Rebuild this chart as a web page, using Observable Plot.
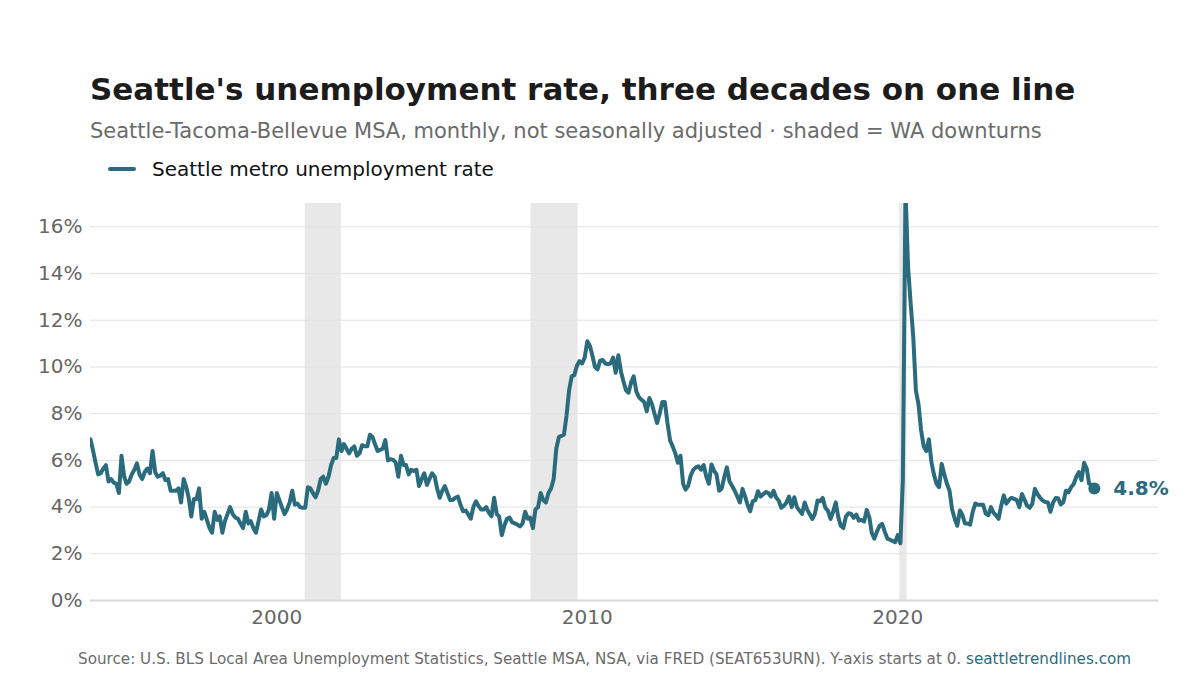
<!DOCTYPE html>
<html>
<head>
<meta charset="utf-8">
<script src="https://cdn.jsdelivr.net/npm/d3@7"></script>
<script src="https://cdn.jsdelivr.net/npm/@observablehq/plot@0.6"></script>
<style>
  html, body { margin: 0; padding: 0; background: #fff; }
  body { width: 1200px; height: 675px; position: relative; overflow: hidden; font-family: "DejaVu Sans", sans-serif; }
  .abs { position: absolute; white-space: nowrap; line-height: 1; }
  #title { left: 90px; top: 74px; font-size: 31px; font-weight: bold; color: #1c1c1c; }
  #subtitle { left: 90px; top: 121px; font-size: 21px; color: #6b6b6b; }
  #legend { left: 108px; top: 159px; font-size: 20px; color: #111; display: flex; align-items: center; }
  #legend .sw { width: 28px; height: 4px; border-radius: 2px; background: #2b6b7e; margin-right: 16px; }
  #chart { left: 0; top: 190px; }
  #footer { left: 78px; top: 652px; font-size: 15.2px; color: #6b6b6b; }
  #footer a { color: #2b6b7e; text-decoration: none; }
</style>
</head>
<body>
<div id="title" class="abs">Seattle's unemployment rate, three decades on one line</div>
<div id="subtitle" class="abs">Seattle-Tacoma-Bellevue MSA, monthly, not seasonally adjusted · shaded = WA downturns</div>
<div id="legend" class="abs"><span class="sw"></span><span>Seattle metro unemployment rate</span></div>
<div id="chart" class="abs"></div>
<div id="footer" class="abs">Source: U.S. BLS Local Area Unemployment Statistics, Seattle MSA, NSA, via FRED (SEAT653URN). Y-axis starts at 0. <a>seattletrendlines.com</a></div>
<script>
// Monthly unemployment rate (%), starting January 1994
const firstYear = 1994;
const rate1990s = [
  6.9, 6.4, 5.9, 5.4, 5.45, 5.65, 5.8, 5.1, 5.2, 5.05, 5.0, 4.6,
  6.2, 5.3, 5.0, 5.1, 5.4, 5.6, 5.87, 5.4, 5.2, 5.5, 5.65, 5.45,
  6.4, 5.5, 5.3, 5.35, 5.45, 5.15, 5.2, 4.7, 4.7, 4.7, 4.8, 4.2,
  5.2, 4.85, 4.4, 3.6, 4.35, 4.35, 4.8, 3.5, 3.8, 3.45, 3.1, 2.9,
  3.8, 3.45, 3.6, 2.9, 3.4, 3.7, 4.0, 3.7, 3.55, 3.5, 3.3, 3.1,
  3.8, 3.3, 3.4, 3.1, 2.9, 3.4, 3.9, 3.6, 3.65, 3.9, 4.6, 3.5
];
const rate2000s = [
  4.6, 4.3, 4.0, 3.7, 3.9, 4.2, 4.7, 4.1, 4.15, 4.0, 3.97, 3.97,
  4.85, 4.8, 4.6, 4.42, 4.7, 5.2, 5.3, 5.0, 5.3, 5.8, 6.1, 6.1,
  6.9, 6.4, 6.7, 6.5, 6.3, 6.5, 6.6, 6.2, 6.3, 6.65, 6.6, 6.6,
  7.1, 7.0, 6.7, 6.4, 6.45, 6.5, 6.87, 6.0, 6.05, 6.02, 5.9, 5.3,
  6.2, 5.8, 5.8, 5.4, 5.6, 5.55, 5.6, 4.9, 5.2, 5.45, 4.95, 5.2,
  5.45, 5.3, 4.8, 4.4, 4.7, 4.9, 4.6, 4.3, 4.3, 4.4, 4.45, 4.1,
  3.82, 3.85, 3.7, 3.5, 4.0, 4.25, 4.05, 3.9, 3.9, 4.0, 3.75, 3.6,
  4.4, 3.7, 3.6, 2.8, 3.2, 3.5, 3.55, 3.35, 3.3, 3.25, 3.17, 3.3,
  3.8, 3.5, 3.55, 3.1, 3.9, 4.0, 4.6, 4.3, 4.2, 4.6, 4.8, 5.2,
  6.5, 7.0, 7.05, 7.1, 7.9, 9.0, 9.6, 9.65, 10.05, 10.25, 10.15, 10.4
];
const rate2010s = [
  11.1, 10.9, 10.5, 10.0, 9.9, 10.27, 10.3, 10.15, 10.12, 10.15, 10.4, 9.75,
  10.5, 9.8, 9.4, 9.0, 8.9, 9.35, 9.6, 8.95, 8.7, 8.6, 8.5, 8.1,
  8.67, 8.4, 8.0, 7.6, 8.0, 8.5, 8.5, 7.6, 6.85, 6.6, 6.3, 5.9,
  6.2, 5.0, 4.75, 4.9, 5.35, 5.6, 5.7, 5.75, 5.6, 5.8, 5.3, 5.0,
  5.82, 5.55, 5.4, 4.7, 4.8, 5.3, 5.7, 5.1, 4.9, 4.7, 4.45, 4.2,
  4.78, 4.45, 4.1, 3.82, 4.25, 4.3, 4.68, 4.45, 4.55, 4.65, 4.6, 4.45,
  4.7, 4.4, 4.28, 3.97, 4.06, 4.2, 4.45, 4.0, 4.42, 4.0, 3.85, 3.71,
  4.2, 3.88, 3.7, 3.49, 3.71, 4.28, 4.25, 4.39, 3.97, 3.85, 3.49, 3.8,
  4.2, 3.56, 3.2, 3.1, 3.6, 3.74, 3.71, 3.54, 3.68, 3.42, 3.45, 3.38,
  3.88, 3.55, 2.9, 2.65, 2.95, 3.2, 3.28, 2.95, 2.65, 2.6, 2.55, 2.5
];
const rate2020s = [
  2.8, 2.45, 5.2, 17.6, 14.3, 12.7, 11.3, 9.0, 8.4, 7.3, 6.6, 6.4,
  6.9, 5.9, 5.4, 5.0, 4.85, 5.85, 5.4, 5.0, 4.7, 3.9, 3.5, 3.2,
  3.85, 3.65, 3.3, 3.3, 3.25, 3.8, 4.15, 4.1, 4.1, 4.1, 3.72, 3.65,
  4.0, 3.75, 3.65, 3.5, 4.05, 4.5, 4.15, 4.3, 4.4, 4.35, 4.3, 4.0,
  4.56, 4.31, 4.06, 3.97, 4.14, 4.78, 4.56, 4.4, 4.28, 4.22, 4.2, 3.8,
  4.2, 4.39, 4.38, 4.11, 4.2, 4.7, 4.63, 4.85, 4.99, 5.3, 5.5, 5.15,
  5.9, 5.65, 5.0, 4.95, 4.8
];
// WA downturn shading
const bandStarts = ["2000-12-01", "2008-03-10", "2020-01-25"];
const bandEnds   = ["2002-02-01", "2009-09-15", "2020-04-20"];
// Axis ticks
const yTicks = [0, 2, 4, 6, 8, 10, 12, 14, 16];
const xTickYears = [2000, 2010, 2020];

const lineColor = "#2b6b7e";

const allRates = [...rate1990s, ...rate2000s, ...rate2010s, ...rate2020s];
const data = allRates.map((rate, i) => ({
  date: new Date(Date.UTC(firstYear, i, 1)),
  rate
}));
const bands = bandStarts.map((s, i) => ({ start: new Date(s + "T00:00:00Z"), end: new Date(bandEnds[i] + "T00:00:00Z") }));
const last = data[data.length - 1];

const chart = Plot.plot({
  width: 1200,
  height: 445,
  marginTop: 13,
  marginBottom: 35,
  marginLeft: 90,
  marginRight: 42,
  style: { fontFamily: "DejaVu Sans, sans-serif", fontSize: "20px", color: "#666", background: "transparent" },
  x: {
    type: "utc",
    domain: [new Date(Date.UTC(1994, 0, 1)), new Date(Date.UTC(2028, 4, 25))],
    ticks: xTickYears.map(y => new Date(Date.UTC(y, 0, 1))),
    tickFormat: d => String(d.getUTCFullYear()),
    tickSize: 0,
    tickPadding: 9,
    label: null
  },
  y: {
    domain: [0, 17],
    ticks: yTicks,
    tickFormat: d => d + "%",
    tickSize: 0,
    tickPadding: 8,
    label: null
  },
  marks: [
    Plot.rect(bands, { x1: "start", x2: "end", y1: 0, y2: 17, fill: "#e8e8e8" }),
    Plot.ruleY(yTicks.filter(d => d > 0), { stroke: "#e2e2e2", strokeWidth: 1 }),
    Plot.ruleY([0], { stroke: "#d8d8d8", strokeWidth: 2 }),
    Plot.line(data, { x: "date", y: "rate", stroke: lineColor, strokeWidth: 4, strokeLinejoin: "round", strokeLinecap: "round", clip: true }),
    Plot.dot([last], { x: "date", y: "rate", r: 6, fill: lineColor }),
    Plot.text([last], { x: "date", y: "rate", text: d => d.rate.toFixed(1) + "%", dx: 19, textAnchor: "start", fontWeight: "bold", fontSize: 20, fill: lineColor })
  ]
});
document.getElementById("chart").appendChild(chart);
</script>
</body>
</html>
